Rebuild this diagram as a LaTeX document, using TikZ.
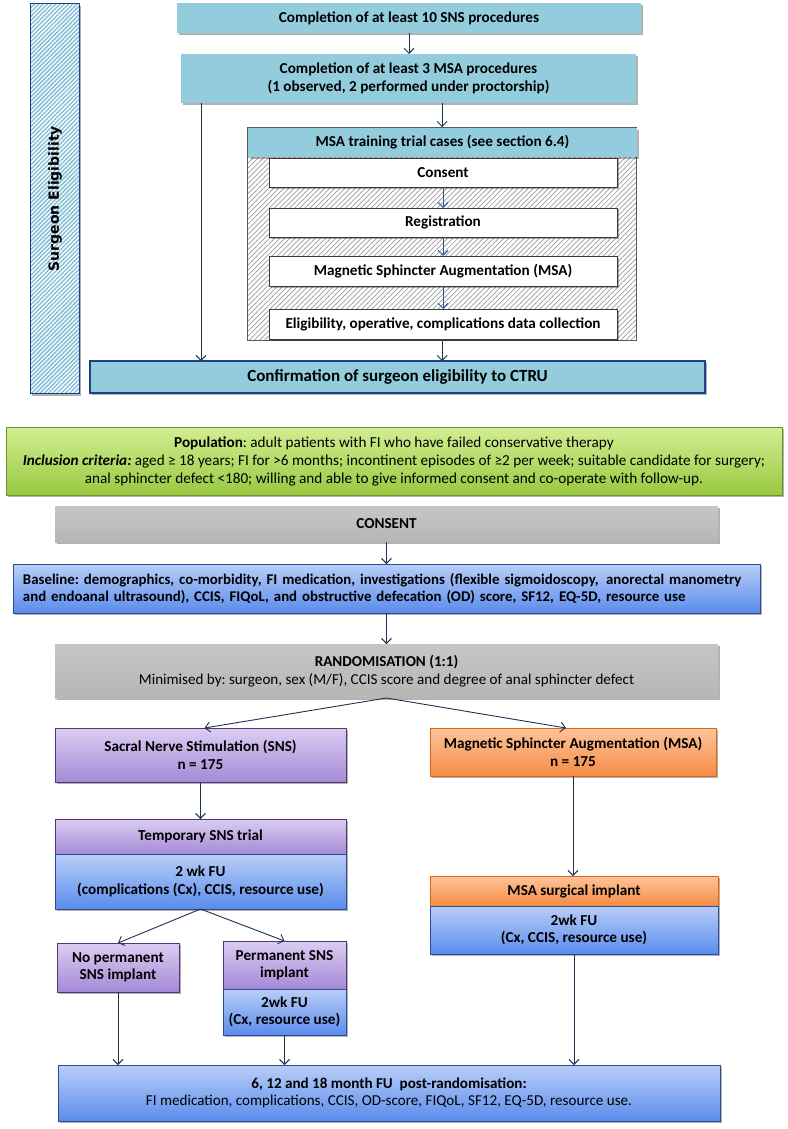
\documentclass[tikz,border=0pt]{standalone}
\usepackage{fontspec}
\setmainfont{Carlito}
\newfontfamily\dvsans{DejaVu Sans}
\usetikzlibrary{arrows.meta,shadows,patterns.meta,calc}
\frenchspacing
\definecolor{tealc}{HTML}{93CDDD}
\definecolor{barstripe}{HTML}{86C0D8}
\definecolor{confborder}{HTML}{1F3F86}
\definecolor{arrowc}{HTML}{1C3352}
\definecolor{arrowb}{HTML}{2E55A0}
\definecolor{framegray}{HTML}{5A5A5A}
\definecolor{hatchgray}{HTML}{9A9A9A}
\definecolor{greentop}{HTML}{D2EE92}
\definecolor{greenbot}{HTML}{98C940}
\definecolor{greenborder}{HTML}{6E8F33}
\definecolor{graytop}{HTML}{C6C6C6}
\definecolor{graybot}{HTML}{B6B6B6}
\definecolor{bluetop}{HTML}{B9CEF8}
\definecolor{bluebot}{HTML}{5A8CEC}
\definecolor{blueborder}{HTML}{2C4C93}
\definecolor{purptop}{HTML}{DCCDF2}
\definecolor{purpbot}{HTML}{A489D6}
\definecolor{purpborder}{HTML}{4F3B73}
\definecolor{orantop}{HTML}{FDC49A}
\definecolor{oranbot}{HTML}{F68B45}
\definecolor{oranborder}{HTML}{E0650C}
\definecolor{whiteborder}{HTML}{3A3A3A}
\tikzset{
  box/.style n args={4}{at={(#1,#2)}, anchor=north west,
    minimum width={#3-#1}, minimum height={#4-#2}},
  base/.style={align=center, inner sep=1pt, outer sep=0pt,
    font=\bfseries\fontsize{15.2}{17.5}\selectfont},
  shad/.style={drop shadow={shadow xshift=1.8pt, shadow yshift=-2.4pt, opacity=0.3, fill=black}},
  tealbox/.style={base, fill=tealc, shad},
  whitebox/.style={base, fill=white, draw=whiteborder, line width=0.9pt, shad},
  greenbox/.style={base, top color=greentop, bottom color=greenbot, draw=greenborder, line width=0.9pt, shad},
  graybox/.style={base, top color=graytop, bottom color=graybot, shad},
  bluebox/.style={base, top color=bluetop, bottom color=bluebot, draw=blueborder, line width=1pt, shad},
  purpbox/.style={base, top color=purptop, bottom color=purpbot, draw=purpborder, line width=1pt, shad},
  oranbox/.style={base, top color=orantop, bottom color=oranbot, draw=oranborder, line width=1pt, shad},
  arr/.style={draw=arrowc, line width=0.9pt, -{Straight Barb[length=5pt, width=10pt]}},
  arrb/.style={draw=arrowb, line width=0.9pt, -{Straight Barb[length=5pt, width=10pt]}},
}
\begin{document}
\begin{tikzpicture}[x=1pt, y=-1pt]
\useasboundingbox (0,0) rectangle (787,1129);

% Surgeon eligibility bar
\node[box={30}{3}{79}{393}, shad, preaction={fill=white},
  preaction={pattern={Lines[angle=45, distance=3pt, line width=1.5pt]}, pattern color=barstripe},
  draw=confborder, line width=1.3pt] (bar) {};
\node[rotate=90, font=\dvsans\bfseries\fontsize{14}{16}\selectfont] (bartext) at (bar.center) {Surgeon Eligibility};

% Top section
\node[tealbox, box={177}{3}{641}{33}] (b1) {Completion of at least 10 SNS procedures};
\node[tealbox, box={181}{54}{636}{103}] (b2) {Completion of at least 3 MSA procedures\\(1 observed, 2 performed under proctorship)};
\node[box={247}{127}{636}{340}, preaction={fill=white},
  preaction={pattern={Lines[angle=45, distance=3.6pt, line width=0.7pt]}, pattern color=hatchgray},
  draw=framegray, line width=1.3pt] (frame) {};
\node[tealbox, box={248}{128}{637}{157}] (hdr) {MSA training trial cases (see section 6.4)};
\node[whitebox, box={269}{158}{617}{187}] (w1) {Consent};
\node[whitebox, box={269}{208}{617}{237}] (w2) {Registration};
\node[whitebox, box={269}{256}{617}{286}] (w3) {Magnetic Sphincter Augmentation (MSA)};
\node[whitebox, box={269}{309}{617}{339}] (w4) {Eligibility, operative, complications data collection};
\node[tealbox, draw=confborder, line width=1.4pt, box={90}{361}{705}{393},
  font=\bfseries\fontsize{17}{19}\selectfont] (conf) {Confirmation of surgeon eligibility to CTRU};

\draw[arr] (b1.south) -- (b1.south |- b2.north);
\draw[arr] ([xshift=20pt]b2.south west) -- ([xshift=20pt]b2.south west |- conf.north);
\draw[arr] (frame.north |- b2.south) -- (frame.north);
\draw[arrb] (w1.south) -- (w2.north);
\draw[arrb] (w2.south) -- (w3.north);
\draw[arrb] (w3.south) -- (w4.north);
\draw[arr] (frame.south) -- (frame.south |- conf.north);

% Population
\node[greenbox, box={6}{427}{782}{495}, font=\fontsize{15.2}{18}\selectfont] (pop)
{\textbf{Population}: adult patients with FI who have failed conservative therapy\\
\textbf{\textit{Inclusion criteria:}} aged ≥ 18 years; FI for >6 months; incontinent episodes of ≥2 per week; suitable candidate for surgery;\\
anal sphincter defect <180; willing and able to give informed consent and co-operate with follow-up.};

\node[graybox, box={55}{506}{718}{542}] (consent) {CONSENT};
\node[bluebox, box={13}{564}{760}{613}, align=left, inner xsep=10pt, text width=727pt, font=\bfseries\fontsize{14.85}{17.3}\selectfont] (baseline)
{Baseline: demographics, co-morbidity, FI medication, investigations (flexible sigmoidoscopy,\hspace{0.5em}anorectal manometry\\
and endoanal ultrasound), CCIS, FIQoL, and obstructive defecation (OD) score, SF12, EQ-5D, resource use};
\node[graybox, box={55}{644}{718}{698}, font=\fontsize{15.1}{17.5}\selectfont] (random)
{\textbf{RANDOMISATION (1:1)}\\Minimised by: surgeon, sex (M/F), CCIS score and degree of anal sphincter defect};

\draw[arr] (consent.south) -- (consent.south |- baseline.north);
\draw[arr] (baseline.south) -- (baseline.south |- random.north);

% Arms
\node[purpbox, box={55}{728}{346}{782}] (sns) {Sacral Nerve Stimulation (SNS)\\n = 175};
\node[oranbox, box={430}{728}{716}{776}] (msa) {Magnetic Sphincter Augmentation (MSA)\\n = 175};
\draw[arr] (random.south) -- ([xshift=4pt]sns.north);
\draw[arr] (random.south) -- ([xshift=-7pt]msa.north);

\node[purpbox, box={55}{819}{346}{854}] (temp) {Temporary SNS trial};
\node[bluebox, box={55}{854}{346}{909}] (tempfu) {2 wk FU\\(complications (Cx), CCIS, resource use)};
\draw[arr] (sns.south) -- (temp.north);

\node[oranbox, box={430}{876}{718}{906}] (msaimp) {MSA surgical implant};
\node[bluebox, box={430}{906}{718}{954}] (msafu) {2wk FU\\(Cx, CCIS, resource use)};
\draw[arr] (msa.south) -- (msa.south |- msaimp.north);

\node[purpbox, box={57}{943}{179}{992}] (nop) {No permanent\\SNS implant};
\node[purpbox, box={223}{941}{346}{989}] (perm) {Permanent SNS\\implant};
\node[bluebox, box={223}{989}{346}{1035}] (permfu) {2wk FU\\(Cx, resource use)};
\draw[arr] (tempfu.south) -- (nop.north);
\draw[arr] (tempfu.south) -- (perm.north);

\node[bluebox, box={58}{1065}{720}{1121}, font=\fontsize{15.1}{17.7}\selectfont] (final)
{\textbf{6, 12 and 18 month FU~ post-randomisation:}\\FI medication, complications, CCIS, OD-score, FIQoL, SF12, EQ-5D, resource use.};

\draw[arr] (nop.south) -- (nop.south |- final.north);
\draw[arr] (permfu.south) -- (permfu.south |- final.north);
\draw[arr] (msafu.south) -- (msafu.south |- final.north);
\end{tikzpicture}
\end{document}
